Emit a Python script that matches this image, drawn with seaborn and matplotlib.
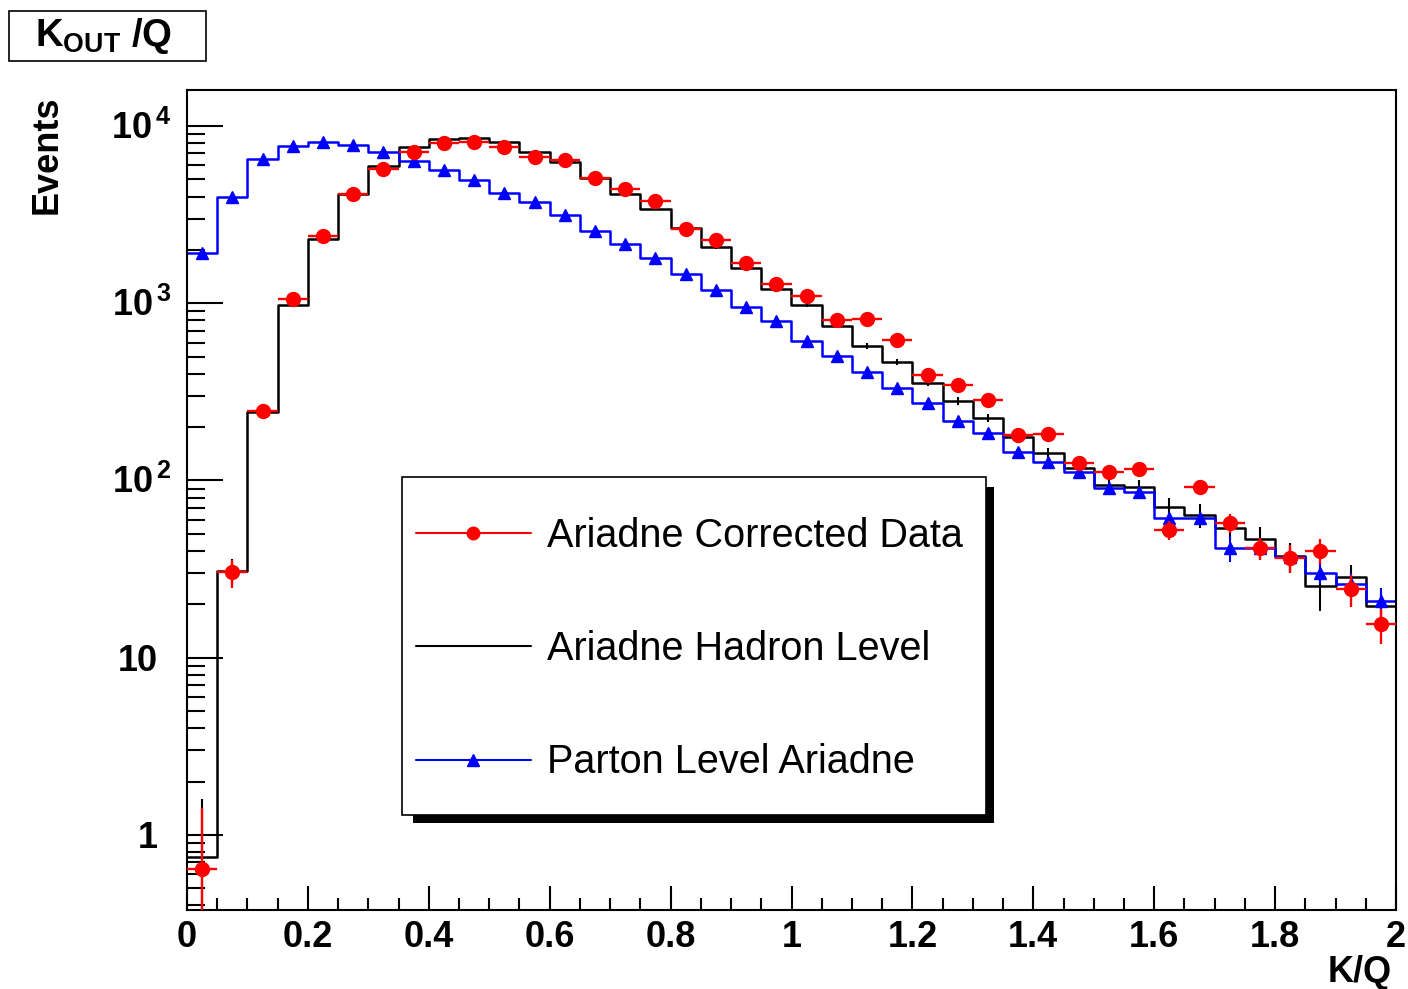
import numpy as np
import pandas as pd
import matplotlib
matplotlib.use("Agg")
import matplotlib.pyplot as plt
from matplotlib.lines import Line2D
from matplotlib.patches import Rectangle
from matplotlib.transforms import blended_transform_factory, ScaledTranslation
import seaborn as sns

# K/Q bins: 40 bins of width 0.05 from 0 to 2
n_bins = 40
bin_edges = np.linspace(0.0, 2.0, n_bins + 1)
bin_centers = 0.5 * (bin_edges[:-1] + bin_edges[1:])

# Ariadne corrected data (red points)
corrected = [0.64, 30.3, 246, 1057, 2400, 4140, 5720, 7110, 7990, 8150,
             7640, 6710, 6430, 5110, 4420, 3780, 2610, 2270, 1690, 1280,
             1100, 803, 815, 619, 393, 345, 284, 180, 182, 125,
             112, 116, 52.5, 92, 57.8, 41.4, 36.6, 40.2, 24.4, 15.4]
corrected_err = [0.78, 5.5, 15, 30, 45, 60, 70, 80, 85, 85,
                 80, 75, 75, 65, 60, 55, 45, 45, 38, 32,
                 30, 25, 25, 22, 18, 17, 15, 12, 12, 9,
                 10, 10, 6.5, 9, 7, 6, 6.5, 6.5, 5, 3.5]

# Ariadne hadron level (black histogram)
hadron = [0.755, 30.9, 243, 977, 2300, 4120, 5970, 7580, 8450, 8520,
          8150, 7160, 6300, 5070, 4140, 3400, 2650, 2070, 1570, 1210,
          977, 747, 575, 468, 356, 280, 226, 176, 143, 117,
          94, 92, 71, 63.8, 54, 46.7, 37.4, 25.3, 28.4, 19.5]
hadron_err = [0.84, 5, 12, 25, 40, 55, 65, 75, 80, 80,
              80, 75, 70, 62, 55, 50, 45, 40, 35, 30,
              27, 23, 20, 18, 15, 14, 12, 11, 10, 9,
              8, 8, 9, 10, 8, 8, 7, 7, 5, 4]

# Parton level Ariadne (blue histogram + triangles)
parton = [1910, 3950, 6520, 7740, 8090, 7810, 7160, 6370, 5640, 4970,
          4170, 3710, 3140, 2560, 2170, 1810, 1460, 1190, 946, 795,
          613, 504, 409, 334, 272, 216, 186, 145, 127, 112,
          91, 86, 61.5, 61, 41.7, 41.7, 36.9, 29.9, 25.9, 20.8]
parton_err = [25, 35, 45, 50, 50, 50, 48, 45, 42, 40,
              36, 34, 31, 28, 26, 24, 21, 19, 17, 16,
              14, 12, 11, 10, 9, 8, 7, 6, 6, 5,
              5, 5, 4, 4, 7, 4, 4, 4, 4, 4]

legend_labels = ["Ariadne Corrected Data", "Ariadne Hadron Level", "Parton Level Ariadne"]
y_ticks = [1, 10, 100, 1000, 10000]
y_tick_labels = ["1", "10", r"$\mathbf{10^{\,2}}$", r"$\mathbf{10^{\,3}}$", r"$\mathbf{10^{\,4}}$"]
x_ticks = [0, 0.2, 0.4, 0.6, 0.8, 1, 1.2, 1.4, 1.6, 1.8, 2]
x_tick_labels = ["0", "0.2", "0.4", "0.6", "0.8", "1", "1.2", "1.4", "1.6", "1.8", "2"]

hist_df = pd.DataFrame({"kq": bin_centers, "hadron": hadron, "parton": parton})

sns.set_theme(style="ticks")
plt.rcParams["font.family"] = ["Liberation Sans", "DejaVu Sans"]
plt.rcParams["text.color"] = "black"
plt.rcParams["axes.labelcolor"] = "black"
plt.rcParams["mathtext.fontset"] = "custom"
plt.rcParams["mathtext.rm"] = "Liberation Sans"
plt.rcParams["mathtext.bf"] = "Liberation Sans:bold"
plt.rcParams["mathtext.it"] = "Liberation Sans:italic"

W, H = 1408, 989
fig = plt.figure(figsize=(W / 100, H / 100), dpi=100)
fig.patch.set_facecolor("white")
ax = fig.add_axes([187 / W, 1 - 910 / H, (1396 - 187) / W, (910 - 90) / H])
ax.set_facecolor("white")

lw = 1.8
# step histograms
sns.histplot(data=hist_df, x="kq", weights="hadron", bins=n_bins, binrange=(0, 2),
             element="step", fill=False, color="black", linewidth=lw, ax=ax)
sns.histplot(data=hist_df, x="kq", weights="parton", bins=n_bins, binrange=(0, 2),
             element="step", fill=False, color="blue", linewidth=lw, ax=ax)

# error bars
ax.errorbar(bin_centers, hadron, yerr=hadron_err, fmt="none",
            ecolor="black", elinewidth=1.5, capsize=0, zorder=3)
ax.errorbar(bin_centers, parton, yerr=parton_err, fmt="^", color="blue",
            markersize=9, elinewidth=1.5, capsize=0, zorder=4)
ax.errorbar(bin_centers, corrected, yerr=corrected_err, xerr=0.025, fmt="o",
            color="red", markersize=10, elinewidth=1.7, capsize=0, zorder=5)

ax.set_yscale("log")
ax.set_xlim(0, 2)
ax.set_ylim(0.377, 15960)
ax.set_xlabel("")
ax.set_ylabel("")

ax.set_xticks(x_ticks)
ax.set_xticklabels(x_tick_labels, fontsize=26, fontweight="bold")
ax.set_xticks(np.arange(0, 2.001, 0.05), minor=True)
ax.set_yticks(y_ticks)
ax.set_yticklabels([])

# y labels drawn by hand: ROOT lets the powers of ten stick out to the right
ytrans = blended_transform_factory(ax.transAxes, ax.transData)
for val, lab in zip(y_ticks, y_tick_labels):
    dx = -16 if "^" in lab else -29
    off = ScaledTranslation(dx / 100, -13 / 100, fig.dpi_scale_trans)
    ax.text(0, val, lab, transform=ytrans + off, ha="right", va="baseline",
            fontsize=26, fontweight="bold", clip_on=False)

ax.tick_params(axis="both", which="both", direction="in", top=False, right=False,
               width=1.5, color="black", labelcolor="black")
ax.tick_params(axis="y", which="major", length=26)
ax.tick_params(axis="y", which="minor", length=13)
ax.tick_params(axis="x", which="major", length=17, pad=7)
ax.tick_params(axis="x", which="minor", length=8.5)
for s in ax.spines.values():
    s.set_visible(True)
    s.set_linewidth(1.5)
    s.set_color("black")

# legend with black drop shadow
shadow = Rectangle((413 / W, 1 - 823 / H), 581 / W, 336 / H, transform=fig.transFigure,
                   facecolor="black", edgecolor="none", zorder=8, clip_on=False)
box = Rectangle((402 / W, 1 - 815 / H), 584 / W, 338 / H, transform=fig.transFigure,
                facecolor="white", edgecolor="black", linewidth=1.2, zorder=9, clip_on=False)
ax.add_patch(shadow)
ax.add_patch(box)
handles = [Line2D([], [], color="red", marker="o", markersize=9, linewidth=1.5),
           Line2D([], [], color="black", linewidth=1.5),
           Line2D([], [], color="blue", marker="^", markersize=9, linewidth=1.5)]
leg = ax.legend(handles, legend_labels, loc="upper left",
                bbox_to_anchor=(416 / W, 1 - 517 / H), bbox_transform=fig.transFigure,
                frameon=False, borderpad=0, borderaxespad=0, handlelength=2.9,
                handletextpad=0.4, labelspacing=1.9, prop={"size": 28.5})
leg.set_zorder(10)

# titles
fig.text(47 / W, 1 - 95 / H, "Events", rotation=90, ha="center", va="top",
         fontsize=26, fontweight="bold")
fig.text(1392 / W, 1 - 973 / H, "K/Q", ha="right", va="center",
         fontsize=26, fontweight="bold")
fig.add_artist(Rectangle((9 / W, 1 - 61 / H), 197 / W, 50 / H, transform=fig.transFigure,
                         facecolor="white", edgecolor="black", linewidth=1.2))
fig.text(104 / W, 1 - 36 / H, r"$\mathbf{K_{OUT}}$ /Q", ha="center", va="center",
         fontsize=27.5, fontweight="bold")

fig.savefig("out.png", dpi=100, facecolor="white")
